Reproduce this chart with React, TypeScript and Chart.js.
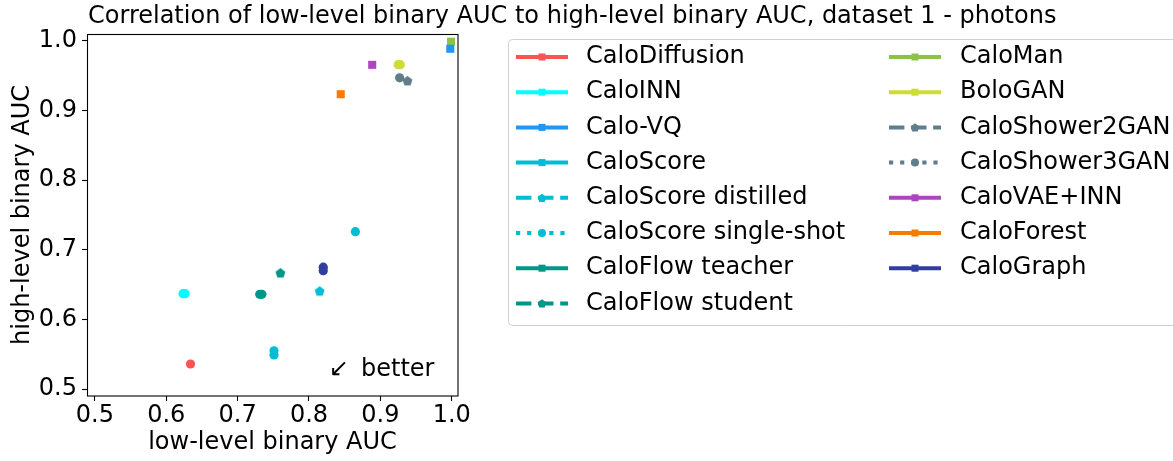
import React, { useEffect, useRef } from 'react';
import { Chart, registerables } from 'chart.js';

Chart.register(...registerables);

const FONT_FAMILY = "'DejaVu Sans', sans-serif";
const FONT_SIZE = 24;

const titleText = 'Correlation of low-level binary AUC to high-level binary AUC, dataset 1 - photons';
const xAxisLabel = 'low-level binary AUC';
const yAxisLabel = 'high-level binary AUC';
const annotationArrow = '\u2199';
const annotationText = 'better';

const xTicks = [0.5, 0.6, 0.7, 0.8, 0.9, 1.0];
const yTicks = [0.5, 0.6, 0.7, 0.8, 0.9, 1.0];

const modelNames = [
  'CaloDiffusion', 'CaloINN', 'Calo-VQ', 'CaloScore', 'CaloScore distilled',
  'CaloScore single-shot', 'CaloFlow teacher', 'CaloFlow student',
  'CaloMan', 'BoloGAN', 'CaloShower2GAN', 'CaloShower3GAN', 'CaloVAE+INN',
  'CaloForest', 'CaloGraph',
];

const modelColors = [
  '#FF5252', '#00FFFF', '#2196F3', '#00BCD4', '#00BCD4',
  '#00BCD4', '#009688', '#009688',
  '#8BC34A', '#CDDC39', '#607D8B', '#607D8B', '#AB47BC',
  '#F57C00', '#303F9F',
];

// line style used in the legend
const modelLineStyles = [
  'solid', 'solid', 'solid', 'solid', 'dashed',
  'dotted', 'solid', 'dashed',
  'solid', 'solid', 'dashed', 'dotted', 'solid',
  'solid', 'solid',
];

// marker shown in the plot
const plotMarkers = [
  'circle', 'circle', 'rect', 'circle', 'pentagon',
  'circle', 'circle', 'pentagon',
  'rect', 'circle', 'pentagon', 'circle', 'rect',
  'rect', 'circle',
];

// marker shown in the legend
const legendMarkers = [
  'rect', 'rect', 'rect', 'rect', 'pentagon',
  'circle', 'rect', 'pentagon',
  'rect', 'rect', 'pentagon', 'circle', 'rect',
  'rect', 'rect',
];

// low-level binary AUC (x) per model
const lowLevelAUC = [
  [0.634], [0.6235, 0.6265], [0.998], [0.751, 0.751], [0.815],
  [0.865], [0.731, 0.734], [0.760],
  [0.999], [0.925, 0.928], [0.938], [0.927], [0.8886],
  [0.8445], [0.820, 0.820],
];

// high-level binary AUC (y) per model
const highLevelAUC = [
  [0.536], [0.637, 0.637], [0.9888], [0.549, 0.555], [0.641],
  [0.726], [0.636, 0.636], [0.667],
  [0.999], [0.966, 0.966], [0.943], [0.947], [0.9657],
  [0.9235], [0.670, 0.675],
];

function pentagonCanvas(color: string, r: number): HTMLCanvasElement {
  const c = document.createElement('canvas');
  const s = Math.ceil(2 * r + 2);
  c.width = s;
  c.height = s;
  const ctx = c.getContext('2d')!;
  ctx.fillStyle = color;
  ctx.beginPath();
  for (let i = 0; i < 5; i++) {
    const a = -Math.PI / 2 + (i * 2 * Math.PI) / 5;
    const px = s / 2 + r * Math.cos(a);
    const py = s / 2 + r * Math.sin(a) + 0.5;
    if (i === 0) ctx.moveTo(px, py);
    else ctx.lineTo(px, py);
  }
  ctx.closePath();
  ctx.fill();
  return c;
}

function drawMarker(ctx: CanvasRenderingContext2D, kind: string, x: number, y: number, color: string) {
  ctx.save();
  ctx.setLineDash([]);
  ctx.fillStyle = color;
  if (kind === 'rect') {
    ctx.fillRect(x - 3.5, y - 3.5, 7, 7);
  } else if (kind === 'circle') {
    ctx.beginPath();
    ctx.arc(x, y, 4, 0, Math.PI * 2);
    ctx.fill();
  } else {
    const r = 4.6;
    ctx.beginPath();
    for (let i = 0; i < 5; i++) {
      const a = -Math.PI / 2 + (i * 2 * Math.PI) / 5;
      const px = x + r * Math.cos(a);
      const py = y + r * Math.sin(a) + 0.5;
      if (i === 0) ctx.moveTo(px, py);
      else ctx.lineTo(px, py);
    }
    ctx.closePath();
    ctx.fill();
  }
  ctx.restore();
}

const decorPlugin = {
  id: 'decor',
  afterDraw(chart: any) {
    const ctx: CanvasRenderingContext2D = chart.ctx;
    const { left, right, top, bottom } = chart.chartArea;
    ctx.save();

    // axes frame (all four spines)
    ctx.setLineDash([]);
    ctx.strokeStyle = '#000000';
    ctx.lineWidth = 1.1;
    ctx.strokeRect(left + 0.5, top + 0.5, right - left - 0.5, bottom - top - 0.5);

    // title
    ctx.fillStyle = '#000000';
    ctx.font = `${FONT_SIZE}px ${FONT_FAMILY}`;
    ctx.textBaseline = 'middle';
    ctx.textAlign = 'left';
    ctx.fillText(titleText, 88, 17);

    // annotation
    ctx.fillText(annotationArrow, 329, 370);
    ctx.fillText(annotationText, 361, 370);

    // legend frame
    const lx = 508.5, ly = 39.5, lw = 720, lh = 286, rr = 4;
    ctx.beginPath();
    ctx.moveTo(lx + rr, ly);
    ctx.lineTo(lx + lw, ly);
    ctx.lineTo(lx + lw, ly + lh);
    ctx.lineTo(lx + rr, ly + lh);
    ctx.arcTo(lx, ly + lh, lx, ly + lh - rr, rr);
    ctx.lineTo(lx, ly + rr);
    ctx.arcTo(lx, ly, lx + rr, ly, rr);
    ctx.closePath();
    ctx.fillStyle = 'rgba(255,255,255,0.8)';
    ctx.fill();
    ctx.strokeStyle = '#d0d0d0';
    ctx.lineWidth = 1;
    ctx.stroke();

    // legend entries (column-major, 8 rows)
    modelNames.forEach((name, i) => {
      const col = Math.floor(i / 8);
      const row = i % 8;
      const y = 57 + row * 35.2;
      const x0 = col === 0 ? 516 : 889;
      const tx = col === 0 ? 586 : 960;
      const color = modelColors[i];
      const style = modelLineStyles[i];
      ctx.strokeStyle = color;
      ctx.lineWidth = 4;
      ctx.lineCap = 'butt';
      if (style === 'dashed') ctx.setLineDash([15.4, 6.7]);
      else if (style === 'dotted') ctx.setLineDash([4.2, 6.9]);
      else ctx.setLineDash([]);
      ctx.beginPath();
      ctx.moveTo(x0, y);
      ctx.lineTo(x0 + 52, y);
      ctx.stroke();
      ctx.setLineDash([]);
      drawMarker(ctx, legendMarkers[i], x0 + 26, y, color);
      ctx.fillStyle = '#000000';
      ctx.font = `${FONT_SIZE}px ${FONT_FAMILY}`;
      ctx.textBaseline = 'middle';
      ctx.textAlign = 'left';
      ctx.fillText(name, tx, y);
    });

    ctx.restore();
  },
};

export default function App() {
  const canvasRef = useRef<HTMLCanvasElement | null>(null);

  useEffect(() => {
    document.body.style.margin = '0';
    const canvas = canvasRef.current;
    if (!canvas) return;

    const datasets = modelNames.map((name, i) => {
      const marker = plotMarkers[i];
      let pointStyle: any = marker;
      let radius = 4.6;
      if (marker === 'rect') radius = 5.7;
      if (marker === 'pentagon') pointStyle = pentagonCanvas(modelColors[i], 5.2);
      return {
        label: name,
        data: lowLevelAUC[i].map((x, j) => ({ x, y: highLevelAUC[i][j] })),
        backgroundColor: modelColors[i],
        borderColor: modelColors[i],
        borderWidth: 0,
        pointStyle,
        pointRadius: radius,
        pointHoverRadius: radius,
        showLine: false,
      };
    });

    const chart = new Chart(canvas, {
      type: 'scatter',
      data: { datasets },
      options: {
        responsive: false,
        animation: false,
        events: [],
        layout: { padding: { left: 0, top: 34, right: 715, bottom: 0 } },
        plugins: {
          legend: { display: false },
          title: { display: false },
          tooltip: { enabled: false },
        },
        scales: {
          x: {
            type: 'linear',
            min: 0.489,
            max: 1.0088,
            afterFit: (scale: any) => { scale.height = 65; },
            afterBuildTicks: (scale: any) => { scale.ticks = xTicks.map((v) => ({ value: v })); },
            ticks: {
              color: '#000000',
              font: { family: FONT_FAMILY, size: FONT_SIZE },
              padding: 0,
              maxRotation: 0,
              autoSkip: false,
              callback: (v: any) => Number(v).toFixed(1),
            },
            grid: {
              drawOnChartArea: false,
              drawTicks: true,
              tickLength: 5,
              tickColor: '#000000',
              tickWidth: 1.1,
            },
            border: { display: false },
            title: {
              display: true,
              text: xAxisLabel,
              color: '#000000',
              font: { family: FONT_FAMILY, size: FONT_SIZE },
              padding: { top: 0, bottom: 4 },
            },
          },
          y: {
            type: 'linear',
            min: 0.49,
            max: 1.01,
            afterFit: (scale: any) => { scale.width = 87; },
            afterBuildTicks: (scale: any) => { scale.ticks = yTicks.map((v) => ({ value: v })); },
            ticks: {
              color: '#000000',
              font: { family: FONT_FAMILY, size: FONT_SIZE },
              padding: 5,
              autoSkip: false,
              callback: (v: any) => Number(v).toFixed(1),
            },
            grid: {
              drawOnChartArea: false,
              drawTicks: true,
              tickLength: 5,
              tickColor: '#000000',
              tickWidth: 1.1,
            },
            border: { display: false },
            title: {
              display: true,
              text: yAxisLabel,
              color: '#000000',
              font: { family: FONT_FAMILY, size: FONT_SIZE },
              padding: { top: 8, bottom: 0 },
            },
          },
        },
      },
      plugins: [decorPlugin],
    } as any);

    return () => chart.destroy();
  }, []);

  return (
    <div style={{ position: 'fixed', left: 0, top: 0, width: 1173, height: 461, background: '#ffffff' }}>
      <canvas ref={canvasRef} width={1173} height={461} style={{ display: 'block', width: 1173, height: 461 }} />
    </div>
  );
}
